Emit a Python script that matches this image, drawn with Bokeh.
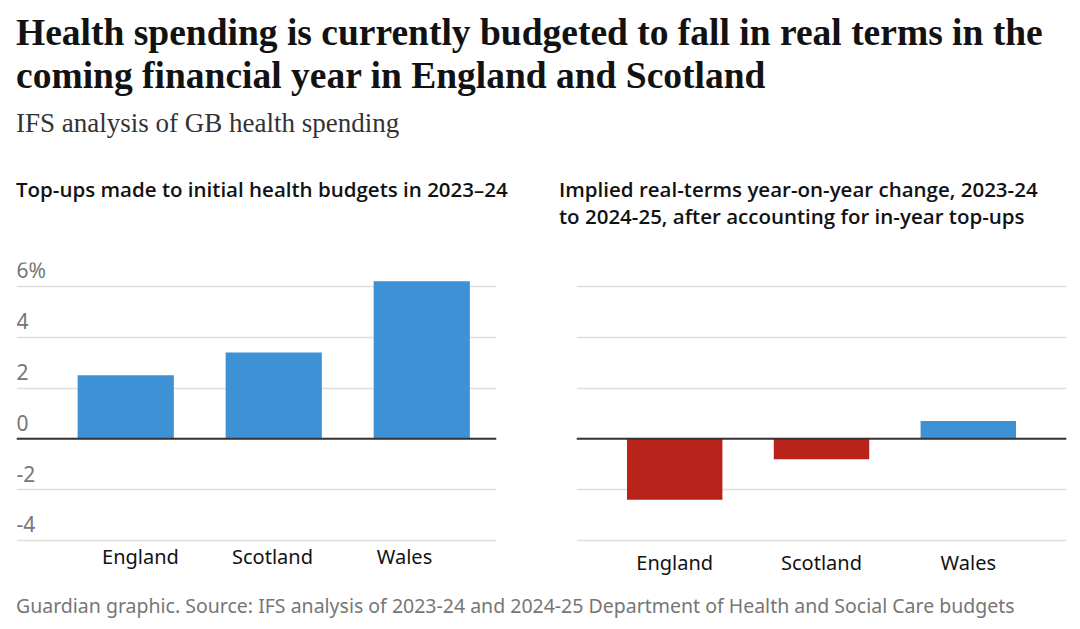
from bokeh.plotting import figure
from bokeh.models import Div, Range1d, FixedTicker, LinearAxis, Span, Grid
from bokeh.layouts import column, row
from bokeh.embed import file_html
from bokeh.resources import INLINE
from bokeh.core.properties import value

# ---------------- data ----------------
categories = ["England", "Scotland", "Wales"]
topups_2023_24 = [2.5, 3.4, 6.2]
real_change_24_25 = [-2.4, -0.8, 0.7]
y_ticks = [-4, -2, 0, 2, 4, 6]
y_tick_labels = ["-4", "-2", "0", "2", "4", "6%"]

headline_1 = "Health spending is currently budgeted to fall in real terms in the"
headline_2 = "coming financial year in England and Scotland"
standfirst = "IFS analysis of GB health spending"
left_title = "Top-ups made to initial health budgets in 2023–24"
right_title_1 = "Implied real-terms year-on-year change, 2023-24"
right_title_2 = "to 2024-25, after accounting for in-year top-ups"
footer_text = "Guardian graphic. Source: IFS analysis of 2023-24 and 2024-25 Department of Health and Social Care budgets"

# ---------------- style ----------------
BLUE = "#3e91d5"
RED = "#b8241b"
GRID = "#dedede"
ZERO = "#333333"
TXT = "#121212"
GREY = "#767676"
SANS = "Noto Sans"

Y_START, Y_END = -4.161, 6.941
FIG_H = 350


def make_chart(values, width, border_left, border_right, x_start, x_end,
               label_range=None, y_labels=False, standoff=0):
    p = figure(width=width, height=FIG_H,
               x_range=Range1d(x_start, x_end), y_range=Range1d(Y_START, Y_END),
               output_backend="svg", toolbar_location=None,
               x_axis_location=None, y_axis_location=None,
               min_border_left=border_left, min_border_right=border_right,
               min_border_top=22, min_border_bottom=FIG_H - 22 - 282)
    p.outline_line_color = None
    p.background_fill_color = "white"
    p.border_fill_color = "white"
    p.center = [r for r in p.center if not isinstance(r, Grid)]
    p.add_layout(Grid(dimension=1, ticker=FixedTicker(ticks=y_ticks),
                      grid_line_color=GRID, grid_line_width=1.5))

    idx = list(range(len(categories)))
    colors = [BLUE if v >= 0 else RED for v in values]
    p.vbar(x=idx, top=values, bottom=0, width=0.65, fill_color=colors,
           line_color=None)

    p.add_layout(Span(location=0, dimension="width", line_color=ZERO,
                      line_width=2))

    if y_labels:
        p.text(x=[x_start] * len(y_ticks), y=y_ticks, text=y_tick_labels,
               text_font=value(SANS), text_font_size="21px",
               text_color=GREY, text_align="left",
               text_baseline="alphabetic", y_offset=-16)

    kw = {}
    if label_range is not None:
        p.extra_x_ranges = {"labels": label_range}
        kw["x_range_name"] = "labels"
    ax = LinearAxis(ticker=FixedTicker(ticks=idx),
                    major_label_overrides={i: c for i, c in enumerate(categories)},
                    **kw)
    ax.axis_line_color = None
    ax.major_tick_line_color = None
    ax.minor_tick_line_color = None
    ax.major_label_text_font = SANS
    ax.major_label_text_font_size = "20px"
    ax.major_label_text_color = TXT
    ax.major_label_standoff = standoff
    p.add_layout(ax, "below")
    return p


left = make_chart(topups_2023_24, 532, 8, 44, -0.738, 2.505,
                  label_range=Range1d(-0.939, 2.697), y_labels=True, standoff=-8)
right = make_chart(real_change_24_25, 532, 36, 6, -0.669, 2.669,
                   y_labels=False, standoff=-2)

TITLE_STYLE = (f"position:absolute;top:168px;font-family:'Open Sans';font-weight:600;"
               f"font-size:20.5px;line-height:27px;color:{TXT};white-space:nowrap;")

header_html = f"""
<div style="position:relative;width:1064px;height:232px;">
 <div style="position:absolute;left:8px;top:3px;font-family:'Liberation Serif';font-weight:700;font-size:37.5px;line-height:43px;color:{TXT};white-space:nowrap;">{headline_1}<br>{headline_2}</div>
 <div style="position:absolute;left:8px;top:100px;font-family:'Liberation Serif';font-size:27px;line-height:30px;color:#333333;white-space:nowrap;">{standfirst}</div>
 <div style="left:8px;{TITLE_STYLE}">{left_title}</div>
 <div style="left:551px;{TITLE_STYLE}">{right_title_1}<br>{right_title_2}</div>
</div>
"""
header = Div(text=header_html, width=1064, height=232, margin=(0, 0, 0, 0))

footer_html = f"""
<div style="position:relative;width:1064px;height:23px;">
 <div style="position:absolute;left:8px;top:4px;font-family:'{SANS}';font-size:19.5px;line-height:24px;color:{GREY};white-space:nowrap;">{footer_text}</div>
</div>
"""
footer = Div(text=footer_html, width=1064, height=23, margin=(0, 0, 0, 0))

layout = column(header, row(left, right, spacing=0), footer, spacing=0,
                margin=(8, 0, 0, 8))

open("out.html", "w").write(file_html(layout, INLINE))
